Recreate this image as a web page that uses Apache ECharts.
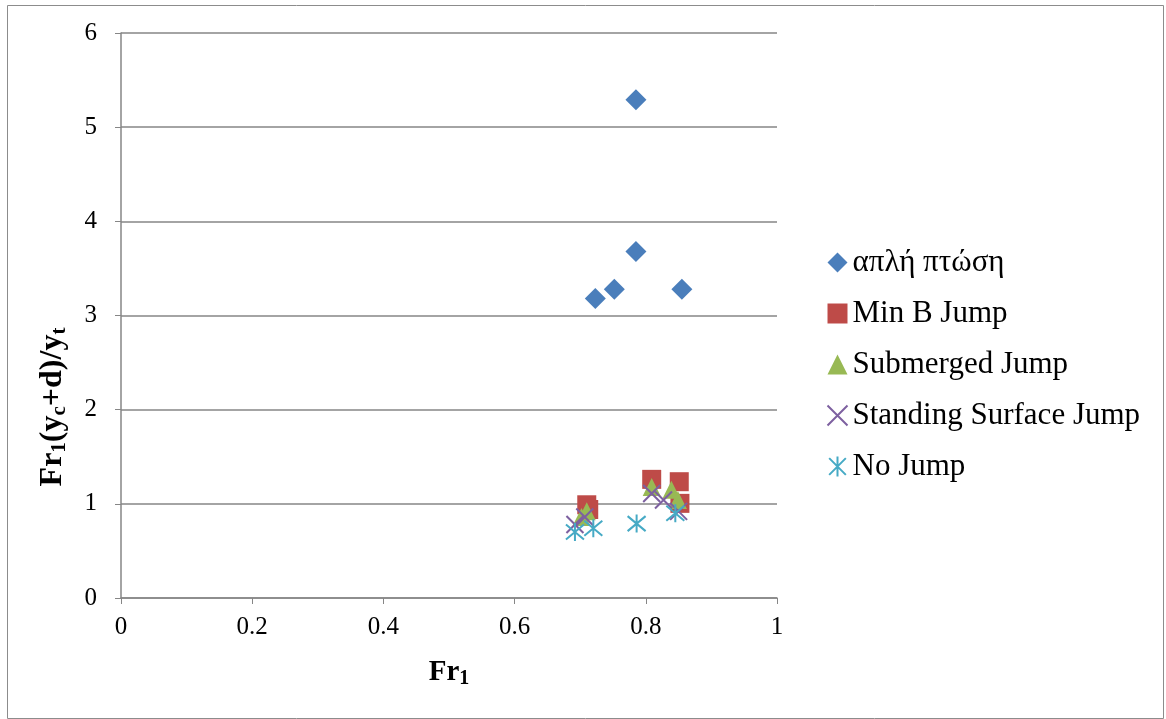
<!DOCTYPE html>
<html>
<head>
<meta charset="utf-8">
<script src="https://cdn.jsdelivr.net/npm/echarts@6/dist/echarts.min.js"></script>
<style>html,body{margin:0;padding:0;background:#fff}#c{width:1166px;height:719px}</style>
</head>
<body>
<div id="c"></div>
<script>
const seriesNames = ['απλή πτώση', 'Min B Jump', 'Submerged Jump', 'Standing Surface Jump', 'No Jump'];
const aplPtosi = [[0.785, 5.29], [0.785, 3.68], [0.752, 3.28], [0.723, 3.18], [0.855, 3.28]];
const minBJump = [[0.710, 0.99], [0.713, 0.94], [0.809, 1.26], [0.851, 1.235], [0.852, 1.005]];
const submergedJump = [[0.710, 0.92], [0.702, 0.86], [0.809, 1.18], [0.839, 1.15], [0.849, 1.04]];
const standingSurfaceJump = [[0.692, 0.78], [0.707, 0.86], [0.809, 1.11], [0.827, 1.04], [0.850, 0.92]];
const noJump = [[0.692, 0.70], [0.720, 0.74], [0.786, 0.79], [0.845, 0.90]];
const xTicks = [0, 0.2, 0.4, 0.6, 0.8, 1];
const yTicks = [0, 1, 2, 3, 4, 5, 6];

const colors = ['#4A7EBB', '#BE4B48', '#98B954', '#7D60A0', '#46AAC5'];
const xPath = 'path://M0,0 L10,10 M10,0 L0,10';
const starPath = 'path://M0,0 L10,10 M10,0 L0,10 M5,-1 L5,11';
const font = 'Liberation Serif';

const chart = echarts.init(document.getElementById('c'));
chart.setOption({
  animation: false,
  backgroundColor: '#fff',
  graphic: [{
    type: 'rect', left: 5, top: 3,
    shape: { width: 1156, height: 713 },
    style: { fill: 'none', stroke: '#8c8c8c', lineWidth: 1 }
  }, {
    type: 'text', x: 53, y: 407, rotation: Math.PI / 2,
    style: {
      text: '{a|Fr}{s|1}{a|(y}{s|c}{a|+d)/y}{s|t}',
      align: 'center', verticalAlign: 'middle',
      rich: {
        a: { fontFamily: font, fontSize: 32, fontWeight: 'bold', fill: '#000' },
        s: { fontFamily: font, fontSize: 21, fontWeight: 'bold', fill: '#000', verticalAlign: 'bottom', padding: [14, 0, 0, 0] }
      }
    }
  }],
  grid: { left: 121, right: 389, top: 33, bottom: 121 },
  legend: {
    left: 820, top: 242, orient: 'vertical',
    itemWidth: 20, itemHeight: 20, itemGap: 20,
    textStyle: { fontFamily: font, fontSize: 31, lineHeight: 30, color: '#000' },
    data: seriesNames
  },
  xAxis: {
    type: 'value', min: 0, max: 1, interval: 0.2,
    name: '{a|Fr}{s|1}', nameLocation: 'middle', nameGap: 58,
    nameTextStyle: { rich: {
      a: { fontFamily: font, fontSize: 29, fontWeight: 'bold', color: '#000' },
      s: { fontFamily: font, fontSize: 20, fontWeight: 'bold', color: '#000', verticalAlign: 'bottom', padding: [13, 0, 0, 0] }
    } },
    axisLine: { lineStyle: { color: '#868686', width: 1.5 } },
    axisTick: { show: true, inside: false, length: 6, lineStyle: { color: '#868686' } },
    splitLine: { show: false },
    axisLabel: { fontFamily: font, fontSize: 25, color: '#000', margin: 17,
      formatter: v => { const t = xTicks.find(k => Math.abs(k - v) < 1e-9); return t === undefined ? '' : String(t); } }
  },
  yAxis: {
    type: 'value', min: 0, max: 6, interval: 1,
    axisLine: { show: true, lineStyle: { color: '#868686', width: 1.5 } },
    axisTick: { show: true, inside: false, length: 6, lineStyle: { color: '#868686' } },
    splitLine: { show: true, lineStyle: { color: '#868686', width: 1.5 } },
    axisLabel: { fontFamily: font, fontSize: 25, color: '#000', margin: 24,
      formatter: v => String(yTicks.find(k => Math.abs(k - v) < 1e-9) ?? '') }
  },
  series: [
    { name: seriesNames[0], type: 'scatter', data: aplPtosi, symbol: 'diamond', symbolSize: 21,
      itemStyle: { color: colors[0], opacity: 1 } },
    { name: seriesNames[1], type: 'scatter', data: minBJump, symbol: 'rect', symbolSize: 19,
      itemStyle: { color: colors[1], opacity: 1 } },
    { name: seriesNames[2], type: 'scatter', data: submergedJump, symbol: 'triangle', symbolSize: 18,
      itemStyle: { color: colors[2], opacity: 1 } },
    { name: seriesNames[3], type: 'scatter', data: standingSurfaceJump, symbol: xPath, symbolSize: 17,
      itemStyle: { color: 'none', borderColor: colors[3], borderWidth: 2, opacity: 1 } },
    { name: seriesNames[4], type: 'scatter', data: noJump, symbol: starPath, symbolSize: 18,
      itemStyle: { color: 'none', borderColor: colors[4], borderWidth: 2, opacity: 1 } }
  ]
});
</script>
</body>
</html>
